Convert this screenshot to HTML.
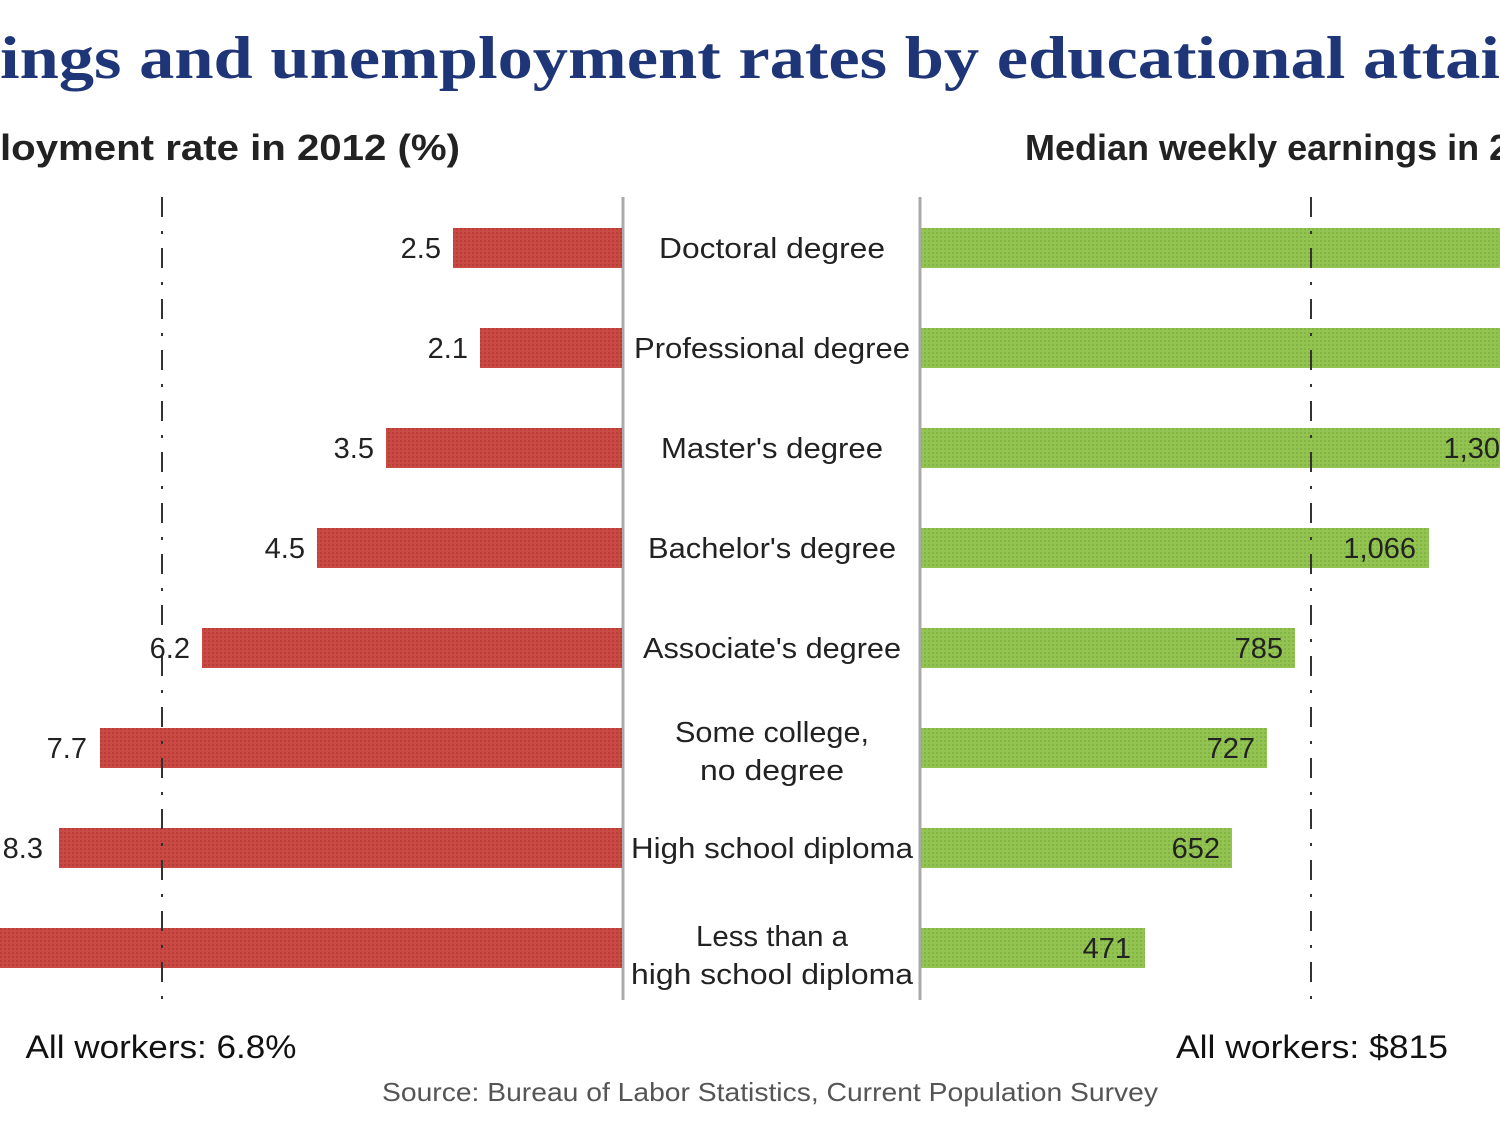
<!DOCTYPE html>
<html><head><style>body{margin:0;background:#fff}svg{display:block}</style></head><body>
<svg width="1500" height="1125" xmlns="http://www.w3.org/2000/svg">
<defs>
<pattern id="pr" width="4" height="4" patternUnits="userSpaceOnUse"><rect width="4" height="4" fill="#c94a44"/><rect width="2" height="2" fill="#b83c38"/></pattern>
<pattern id="pg" width="4" height="4" patternUnits="userSpaceOnUse"><rect width="4" height="4" fill="#93c452"/><rect width="2" height="2" fill="#82b545"/></pattern>
</defs>
<text x="0" y="78" font-family="Liberation Serif, serif" font-weight="bold" font-size="60" fill="#1e3578" textLength="1500" lengthAdjust="spacingAndGlyphs">ings and unemployment rates by educational attai</text>
<text x="1502" y="78" font-family="Liberation Serif, serif" font-weight="bold" font-size="60" fill="#1e3578">nment</text>
<text x="0" y="160" font-family="Liberation Sans, sans-serif" font-weight="bold" font-size="36" fill="#222" textLength="460" lengthAdjust="spacingAndGlyphs">loyment rate in 2012 (%)</text>
<text x="1025" y="160" font-family="Liberation Sans, sans-serif" font-weight="bold" font-size="36" fill="#222">Median weekly earnings in 2012 ($)</text>
<line x1="623" y1="197" x2="623" y2="1000" stroke="#aaa" stroke-width="3"/>
<line x1="920" y1="197" x2="920" y2="1000" stroke="#aaa" stroke-width="3"/>
<g fill="url(#pr)">
<rect x="453" y="228" width="169" height="40"/>
<rect x="480" y="328" width="142" height="40"/>
<rect x="386" y="428" width="236" height="40"/>
<rect x="317" y="528" width="305" height="40"/>
<rect x="202" y="628" width="420" height="40"/>
<rect x="100" y="728" width="522" height="40"/>
<rect x="59" y="828" width="563" height="40"/>
<rect x="0" y="928" width="622" height="40"/>
</g>
<g fill="url(#pg)">
<rect x="921" y="228" width="579" height="40"/>
<rect x="921" y="328" width="579" height="40"/>
<rect x="921" y="428" width="579" height="40"/>
<rect x="921" y="528" width="508" height="40"/>
<rect x="921" y="628" width="374" height="40"/>
<rect x="921" y="728" width="346" height="40"/>
<rect x="921" y="828" width="311" height="40"/>
<rect x="921" y="928" width="224" height="40"/>
</g>
<line x1="162" y1="197" x2="162" y2="1000" stroke="#333" stroke-width="2" stroke-dasharray="20,14,3,14"/>
<line x1="1311" y1="197" x2="1311" y2="1000" stroke="#333" stroke-width="2" stroke-dasharray="20,14,3,14"/>
<g font-family="Liberation Sans, sans-serif" font-size="29" fill="#222" text-anchor="end">
<text x="441" y="258">2.5</text><text x="468" y="358">2.1</text><text x="374" y="458">3.5</text><text x="305" y="558">4.5</text><text x="190" y="658">6.2</text><text x="87" y="758">7.7</text><text x="43" y="858">8.3</text>
<text x="1500" y="458">1,30</text><text x="1416" y="558">1,066</text><text x="1283" y="658">785</text><text x="1255" y="758">727</text><text x="1220" y="858">652</text><text x="1131" y="958">471</text>
</g>
<g font-family="Liberation Sans, sans-serif" font-size="29" fill="#222" text-anchor="middle">
<text x="772" y="258" textLength="226" lengthAdjust="spacingAndGlyphs">Doctoral degree</text>
<text x="772" y="358" textLength="276" lengthAdjust="spacingAndGlyphs">Professional degree</text>
<text x="772" y="458" textLength="222" lengthAdjust="spacingAndGlyphs">Master's degree</text>
<text x="772" y="558" textLength="248" lengthAdjust="spacingAndGlyphs">Bachelor's degree</text>
<text x="772" y="658" textLength="258" lengthAdjust="spacingAndGlyphs">Associate's degree</text>
<text x="772" y="742" textLength="194" lengthAdjust="spacingAndGlyphs">Some college,</text><text x="772" y="780" textLength="144" lengthAdjust="spacingAndGlyphs">no degree</text>
<text x="772" y="858" textLength="282" lengthAdjust="spacingAndGlyphs">High school diploma</text>
<text x="772" y="946" textLength="152" lengthAdjust="spacingAndGlyphs">Less than a</text><text x="772" y="984" textLength="282" lengthAdjust="spacingAndGlyphs">high school diploma</text>
</g>
<g font-family="Liberation Sans, sans-serif" font-size="32" fill="#111" text-anchor="middle">
<text x="161" y="1058" textLength="271" lengthAdjust="spacingAndGlyphs">All workers: 6.8%</text>
<text x="1312" y="1058" textLength="272" lengthAdjust="spacingAndGlyphs">All workers: $815</text>
</g>
<text x="770" y="1101" text-anchor="middle" font-family="Liberation Sans, sans-serif" font-size="26" fill="#555" textLength="776" lengthAdjust="spacingAndGlyphs">Source: Bureau of Labor Statistics, Current Population Survey</text>
</svg>
</body></html>
